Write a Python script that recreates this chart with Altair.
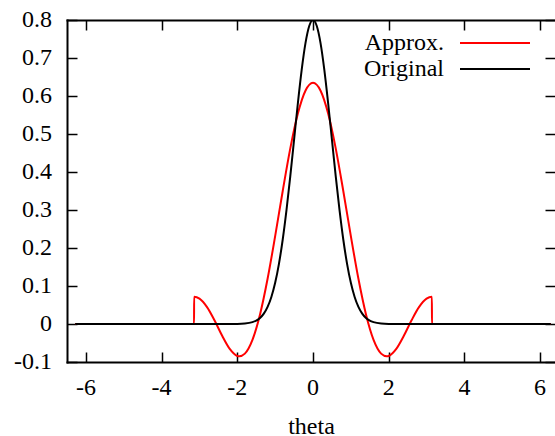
import altair as alt
import pandas as pd

# ---- data ----
series_names = ["Approx.", "Original"]
series_colors = ["#ff0000", "#000000"]

approx_x = [-6.2832, -3.1426, -3.1416, -3.0, -2.8, -2.6, -2.4, -2.2, -2.0, -1.95, -1.8,
            -1.6, -1.4, -1.2, -1.0, -0.8, -0.6, -0.4, -0.2, 0.0,
            0.2, 0.4, 0.6, 0.8, 1.0, 1.2, 1.4, 1.6, 1.8, 1.95, 2.0, 2.2, 2.4, 2.6, 2.8,
            3.0, 3.1416, 3.1426, 6.2832]
approx_y = [0.0, 0.0, 0.0715, 0.0666, 0.0443, 0.0090, -0.0311, -0.0656, -0.0841, -0.0851, -0.0779,
            -0.0418, 0.0251, 0.1190, 0.2312, 0.3501, 0.4621, 0.5538, 0.6138, 0.6347,
            0.6138, 0.5538, 0.4621, 0.3501, 0.2312, 0.1190, 0.0251, -0.0418, -0.0779, -0.0851, -0.0841,
            -0.0656, -0.0311, 0.0090, 0.0443, 0.0666, 0.0715, 0.0, 0.0]

orig_x = [-6.2832, -2.5, -2.0, -1.8, -1.6, -1.5, -1.4, -1.3, -1.2, -1.1, -1.0, -0.9, -0.8, -0.7,
          -0.6, -0.5, -0.4, -0.3, -0.2, -0.1, 0.0, 0.1, 0.2, 0.3, 0.4, 0.5, 0.6, 0.7, 0.8, 0.9,
          1.0, 1.1, 1.2, 1.3, 1.4, 1.5, 1.6, 1.8, 2.0, 2.5, 6.2832]
orig_y = [0.0, 0.0, 0.0003, 0.0012, 0.0048, 0.0089, 0.0159, 0.0272, 0.0449, 0.0711, 0.1083, 0.1583,
          0.2224, 0.3003, 0.3894, 0.4852, 0.5809, 0.6682, 0.7385, 0.7842, 0.8, 0.7842, 0.7385,
          0.6682, 0.5809, 0.4852, 0.3894, 0.3003, 0.2224, 0.1583, 0.1083, 0.0711, 0.0449, 0.0272,
          0.0159, 0.0089, 0.0048, 0.0012, 0.0003, 0.0, 0.0]

x_ticks = [-6, -4, -2, 0, 2, 4, 6]
y_ticks = [-0.1, 0, 0.1, 0.2, 0.3, 0.4, 0.5, 0.6, 0.7, 0.8]
x_tick_labels = ["-6", "-4", "-2", "0", "2", "4", "6"]
y_tick_labels = ["-0.1", "0", "0.1", "0.2", "0.3", "0.4", "0.5", "0.6", "0.7", "0.8"]
# the reference frame runs to 6.5 on the right, just past the picture's edge
x_domain = [-6.5, 6.394]
y_domain = [-0.1, 0.8]
x_title = "theta"

# ---- layout / style ----
W, H = 488, 342
FONT = "Liberation Serif"
FS = 24

df = pd.concat([
    pd.DataFrame({"theta": approx_x, "value": approx_y, "series": series_names[0]}),
    pd.DataFrame({"theta": orig_x, "value": orig_y, "series": series_names[1]}),
], ignore_index=True)
xlab_df = pd.DataFrame({"tick": x_ticks, "label": x_tick_labels})
ylab_df = pd.DataFrame({"tick": y_ticks, "label": y_tick_labels})

xs = alt.Scale(domain=x_domain, nice=False, zero=False)
ys = alt.Scale(domain=y_domain, nice=False, zero=False)

color = alt.Color(
    "series:N",
    scale=alt.Scale(domain=series_names, range=series_colors),
    sort=series_names,
    legend=alt.Legend(
        title=None, orient="none", legendX=416, legendY=11,
        symbolType="M-5,0H5", symbolSize=196, symbolStrokeWidth=2,
        labelFont=FONT, labelFontSize=FS, labelColor="black",
        labelAlign="right", labelOffset={"expr": "-63"}, rowPadding=2, padding=0,
    ),
)

base = alt.Chart(df)

frame_x = alt.Axis(orient="bottom", values=x_ticks, ticks=False, labels=False, grid=False,
                   domain=True, domainColor="black", domainWidth=2, domainCap="square",
                   title=x_title, titleFont=FONT, titleFontSize=FS, titleFontWeight="normal",
                   titleColor="black", titlePadding=52)
frame_y = alt.Axis(orient="left", values=y_ticks, ticks=False, labels=False, grid=False,
                   domain=True, domainColor="black", domainWidth=2, domainCap="square",
                   title=None)

def tick_axis(orient, values, off, dom=False):
    return alt.Axis(orient=orient, offset=off, values=values, labels=False,
                    domain=dom, domainColor="black", domainWidth=2, domainCap="square",
                    grid=False, ticks=True, tickSize=10, tickWidth=1.5, tickColor="black",
                    title=None)

red = base.transform_filter(alt.datum.series == series_names[0]).mark_line(
    strokeWidth=2, interpolate="monotone", clip=True
).encode(
    x=alt.X("theta:Q", scale=xs, axis=frame_x),
    y=alt.Y("value:Q", scale=ys, axis=frame_y),
    color=color,
)

black = base.transform_filter(alt.datum.series == series_names[1]).mark_line(
    strokeWidth=2, interpolate="monotone", clip=True
).encode(
    x=alt.X("theta:Q", scale=xs, axis=tick_axis("top", x_ticks, -H)),
    y=alt.Y("value:Q", scale=ys, axis=tick_axis("right", y_ticks, -W)),
    color=color,
)

ghost = base.transform_filter(alt.datum.series == series_names[1]).mark_point(
    opacity=0
).encode(
    x=alt.X("theta:Q", scale=xs, axis=tick_axis("bottom", x_ticks, -H, dom=True)),
    y=alt.Y("value:Q", scale=ys, axis=tick_axis("left", y_ticks, -W)),
)

# tick labels as serif text placed through the same scales
xlab = alt.Chart(xlab_df).mark_text(
    font=FONT, fontSize=FS, color="black", align="center", baseline="alphabetic", dy=33
).encode(
    x=alt.X("tick:Q", scale=xs, axis=None),
    y=alt.value(H),
    text="label:N",
)

ylab = alt.Chart(ylab_df).mark_text(
    font=FONT, fontSize=FS, color="black", align="right", baseline="middle", dx=-15
).encode(
    x=alt.value(0),
    y=alt.Y("tick:Q", scale=ys, axis=None),
    text="label:N",
)

chart = alt.layer(red, black, ghost, xlab, ylab).resolve_axis(
    x="independent", y="independent"
).properties(
    width=W, height=H,
    padding={"left": 67, "top": 20, "right": 0, "bottom": 74},
    autosize="none",
).configure_view(
    strokeOpacity=0
).configure(
    background="white",
)

chart.save("out.html", embed_options={"renderer": "svg", "actions": False})
